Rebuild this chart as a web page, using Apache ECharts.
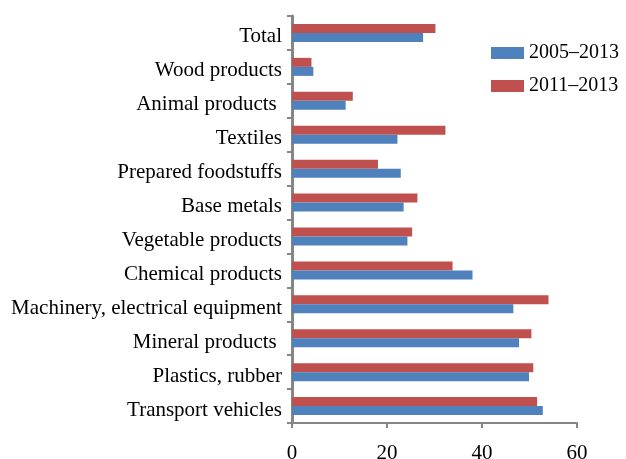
<!DOCTYPE html>
<html>
<head>
<meta charset="utf-8">
<script src="https://cdn.jsdelivr.net/npm/echarts@6/dist/echarts.min.js"></script>
<style>
  html, body { margin: 0; padding: 0; background: #fff; }
  #chart { width: 626px; height: 459px; }
</style>
</head>
<body>
<div id="chart"></div>
<script>
// categories, bottom to top
var categories = ['Transport vehicles', 'Plastics, rubber', 'Mineral products ',
  'Machinery, electrical equipment', 'Chemical products', 'Vegetable products',
  'Base metals', 'Prepared foodstuffs', 'Textiles', 'Animal products ',
  'Wood products', 'Total'];
var seriesNames = ['2005\u20132013', '2011\u20132013'];
var values0513 = [52.8, 49.9, 47.8, 46.6, 38.0, 24.3, 23.5, 22.9, 22.2, 11.3, 4.5, 27.6];
var values1113 = [51.6, 50.8, 50.4, 54.0, 33.8, 25.3, 26.4, 18.1, 32.3, 12.8, 4.1, 30.2];
var xTicks = [0, 20, 40, 60];

var font = '"Liberation Serif", "Times New Roman", serif';
var myChart = echarts.init(document.getElementById('chart'));
var option = {
  backgroundColor: '#fff',
  animation: false,
  grid: { left: 292, right: 49, top: 16, bottom: 36, outerBoundsMode: 'none' },
  legend: {
    orient: 'vertical',
    left: 491,
    top: 43,
    padding: 0,
    icon: 'rect',
    itemWidth: 33,
    itemHeight: 12,
    itemGap: 13,
    data: seriesNames,
    textStyle: { fontFamily: font, fontSize: 20, color: '#000' }
  },
  xAxis: {
    type: 'value',
    min: xTicks[0],
    max: xTicks[xTicks.length - 1],
    interval: 20,
    splitLine: { show: false },
    axisLine: { show: true, lineStyle: { color: '#868686', width: 2 } },
    axisTick: { show: true, length: 5, lineStyle: { color: '#868686', width: 2 } },
    axisLabel: { margin: 20, fontFamily: font, fontSize: 21, color: '#000' }
  },
  yAxis: {
    type: 'category',
    data: categories,
    axisLine: { show: true, lineStyle: { color: '#868686', width: 3 } },
    axisTick: { show: true, length: 5, lineStyle: { color: '#868686', width: 2 } },
    axisLabel: {
      margin: 10,
      formatter: function (v) { return '{a|' + v + '}'; },
      rich: { a: { padding: [8, 0, 0, 0], fontFamily: font, fontSize: 21, color: '#000' } }
    }
  },
  // red first so it sits above the blue bar in each category
  series: [{
    name: seriesNames[1],
    type: 'bar',
    data: values1113,
    barWidth: 9,
    barGap: '0%',
    itemStyle: { color: '#c0504d' }
  }, {
    name: seriesNames[0],
    type: 'bar',
    data: values0513,
    barWidth: 9,
    barGap: '0%',
    itemStyle: { color: '#4f81bd' }
  }]
};
if (option && typeof option === 'object') {
  myChart.setOption(option, true);
}
</script>
</body>
</html>
